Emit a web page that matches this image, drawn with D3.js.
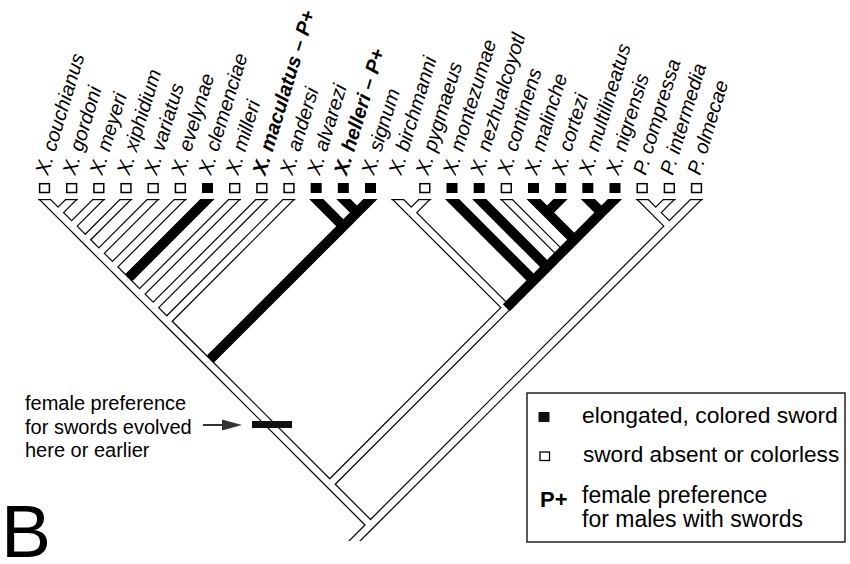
<!DOCTYPE html>
<html><head><meta charset="utf-8">
<script src="https://cdn.jsdelivr.net/npm/d3@7"></script>
<style>body{margin:0;background:#fff} svg{display:block}</style>
</head><body>
<svg id="c" width="850" height="564"></svg>
<script>
// ---------------- data ----------------
const taxa = ["X. couchianus","X. gordoni","X. meyeri","X. xiphidium","X. variatus","X. evelynae","X. clemenciae","X. milleri","X. maculatus","X. andersi","X. alvarezi","X. helleri","X. signum","X. birchmanni","X. pygmaeus","X. montezumae","X. nezhualcoyotl","X. continens","X. malinche","X. cortezi","X. multilineatus","X. nigrensis","P. compressa","P. intermedia","P. olmecae"];
// 1 = elongated, colored sword ; 0 = sword absent or colorless ; null = not scored
const sword = [0,0,0,0,0,0,1,0,0,0,1,1,1,null,0,1,1,0,1,1,1,1,0,0,0];
const preference = ["X. maculatus","X. helleri"];
const newick = "((((((((((((0,1),2),3),4),5),6),7),8),9),(10,(11,12))),((13,14),(15,(16,(17,((18,19),(20,21))))))),((22,23),24))";
// internal branches reconstructed as sword-bearing (leaf index ranges)
const blackClades = [[11,12],[10,12],[18,19],[20,21],[18,21],[17,21],[16,21],[15,21]];
const legendItems = ["elongated, colored sword","sword absent or colorless"];
const legendPref = ["female preference","for males with swords"];
const noteLines = ["female preference","for swords evolved","here or earlier"];

// ---------------- layout ----------------
const svg = d3.select("#c");
const FONT = "'Liberation Sans', Arial, Helvetica, sans-serif";
const n = taxa.length;
const topY = 199;
const xs = d3.scaleLinear().domain([0, n - 1]).range([44.5, 696.5]);
const ys = d3.scaleLinear().domain([0, n - 1]).range([topY, topY + (696.5 - 44.5) / 2]);

const nested = JSON.parse(newick.replace(/\(/g, "[").replace(/\)/g, "]"));
const root = d3.hierarchy(nested, d => Array.isArray(d) ? d : null);
root.eachAfter(d => {
  if (!d.children) { d.L = d.R = d.data; }
  else { d.L = d3.min(d.children, c => c.L); d.R = d3.max(d.children, c => c.R); }
  d.x = (xs(d.L) + xs(d.R)) / 2;
  d.y = ys(d.R - d.L);
  d.black = d.children ? blackClades.some(c => c[0] === d.L && c[1] === d.R) : sword[d.data] === 1;
});

const W = 9, WB = 10, LW = 1.2, WI = W - 2 * LW;
const s2 = Math.SQRT1_2;
const rootDir = [-s2, s2];

function dirOf(a, b) { const dx = b.x - a.x, dy = b.y - a.y, l = Math.hypot(dx, dy); return [dx / l, dy / l]; }
function stemDir(p) { return p.parent ? dirOf(p, p.parent) : rootDir; }

const branches = [];
root.descendants().forEach(d => {
  if (!d.parent) return;
  const p = d.parent;
  const dir = dirOf(d, p);
  const sd = stemDir(p);
  const through = (dir[0] * sd[0] + dir[1] * sd[1]) > 0.9;
  const sib = p.children.find(c => c !== d);
  const start = d.children ? [d.x, d.y] : [d.x - dir[0] * 20, d.y - dir[1] * 20];
  const center = [p.x, p.y];
  const edge = [p.x - dir[0] * W / 2, p.y - dir[1] * W / 2];
  let whiteEnd = center, blackEnd = center;
  if (!through) {
    if (sib.black && p.black) whiteEnd = edge;
    if (!sib.black && !p.black) blackEnd = edge;
  }
  branches.push({ node: d, start, center, whiteEnd, blackEnd, black: d.black });
});
const stem = { start: [root.x, root.y], end: [root.x + rootDir[0] * 40, root.y + rootDir[1] * 40] };

const defs = svg.append("defs");
defs.append("clipPath").attr("id", "treeclip").append("rect")
  .attr("x", 0).attr("y", topY).attr("width", 850).attr("height", 541 - topY);

const tree = svg.append("g").attr("clip-path", "url(#treeclip)");
const seg = (g, a, b, w, col) => g.append("line").attr("x1", a[0]).attr("y1", a[1]).attr("x2", b[0]).attr("y2", b[1])
  .attr("stroke", col).attr("stroke-width", w).attr("stroke-linecap", "butt");

const l1 = tree.append("g"), l2 = tree.append("g"), l3 = tree.append("g"), l4 = tree.append("g");
branches.forEach(b => seg(l1, b.start, b.center, W, "#000"));
seg(l1, stem.start, stem.end, W, "#000");
branches.filter(b => !b.black).forEach(b => seg(l2, b.start, b.whiteEnd, WI, "#fff"));
seg(l2, stem.start, stem.end, WI, "#fff");
branches.filter(b => b.black).forEach(b => seg(l3, b.start, b.blackEnd, WB, "#000"));
// closed tops of hollow tips
root.leaves().filter(d => !d.black).forEach(d => {
  const hw = W / Math.SQRT2;
  l4.append("line").attr("x1", d.x - hw).attr("x2", d.x + hw)
    .attr("y1", topY + LW / 2).attr("y2", topY + LW / 2)
    .attr("stroke", "#000").attr("stroke-width", LW);
});

// tip squares
root.leaves().forEach(d => {
  const st = sword[d.data];
  if (st === null) return;
  if (st === 1) svg.append("rect").attr("x", d.x - 5.5).attr("y", 183).attr("width", 11).attr("height", 10).attr("fill", "#000");
  else svg.append("rect").attr("x", d.x - 4.9).attr("y", 183.7).attr("width", 9.8).attr("height", 8.8)
    .attr("fill", "#fff").attr("stroke", "#000").attr("stroke-width", 1.5);
});

// tip labels
root.leaves().forEach(d => {
  const name = taxa[d.data];
  const pref = preference.includes(name);
  svg.append("text")
    .attr("transform", `translate(${d.x + 3.5},176) rotate(-73)`)
    .attr("font-family", FONT).attr("font-size", 20).attr("font-style", "italic")
    .attr("font-weight", pref ? "bold" : "normal")
    .text(pref ? name + " \u2013 P+" : name);
});

// female preference marker
svg.append("rect").attr("x", 252).attr("y", 421).attr("width", 40).attr("height", 7).attr("fill", "#111");
svg.append("line").attr("x1", 203).attr("x2", 225).attr("y1", 425).attr("y2", 425).attr("stroke", "#000").attr("stroke-width", 1.6);
svg.append("path").attr("d", "M222,419.5 L242,425 L222,430.5 Z").attr("fill", "#333");
const note = svg.append("text").attr("font-family", FONT).attr("font-size", 20);
noteLines.forEach((t, i) => note.append("tspan").attr("x", 25).attr("y", 410 + i * 23.5).text(t));

// legend
svg.append("rect").attr("x", 527).attr("y", 393).attr("width", 318).attr("height", 149)
  .attr("fill", "none").attr("stroke", "#000").attr("stroke-width", 1.3);
svg.append("rect").attr("x", 538.5).attr("y", 412).attr("width", 11).attr("height", 10).attr("fill", "#111");
svg.append("rect").attr("x", 540).attr("y", 452).attr("width", 9.5).attr("height", 8.5)
  .attr("fill", "#fff").attr("stroke", "#000").attr("stroke-width", 1.3);
svg.append("text").attr("x", 582).attr("y", 423).attr("font-family", FONT).attr("font-size", 22.9).text(legendItems[0]);
svg.append("text").attr("x", 583).attr("y", 462).attr("font-family", FONT).attr("font-size", 22.6).text(legendItems[1]);
svg.append("text").attr("x", 540).attr("y", 507).attr("font-family", FONT).attr("font-size", 22).attr("font-weight", "bold").text("P+");
const lp = svg.append("text").attr("font-family", FONT).attr("font-size", 23);
legendPref.forEach((t, i) => lp.append("tspan").attr("x", 582).attr("y", 503 + i * 24).text(t));

// panel letter
svg.append("text").attr("x", 1).attr("y", 557).attr("font-family", FONT).attr("font-size", 75).text("B");
</script>
</body></html>
